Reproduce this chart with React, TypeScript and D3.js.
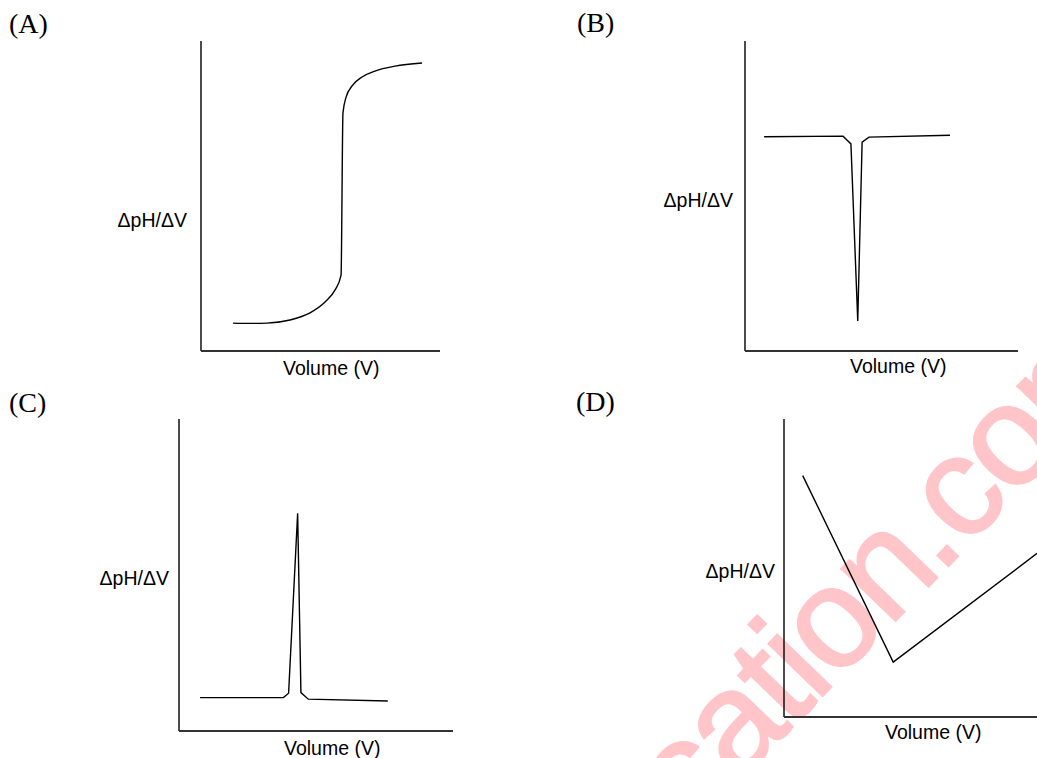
import React from "react";
import * as d3 from "d3";

// Panel letters and axis titles
const panelLabels = ["(A)", "(B)", "(C)", "(D)"];
const yTitle = "ΔpH/ΔV";
const xTitle = "Volume (V)";
const watermarkText = "education.com";

// Series values (volume %, ΔpH/ΔV %) for each panel
const seriesA: [number, number][] = [
  [13.4, 9.0], [20.5, 8.9], [27.6, 9.0], [37.2, 10.0], [45.6, 12.3], [51.9, 15.8],
  [56.1, 19.7], [58.6, 24.5], [59.4, 76.8], [60.7, 81.9], [63.2, 85.5], [67.4, 88.4],
  [72.8, 90.3], [81.2, 91.9], [92.5, 92.9],
];
const seriesB: [number, number][] = [
  [7.0, 69.1], [35.9, 69.3], [38.8, 66.8], [41.3, 9.7], [42.9, 67.4], [45.4, 69.0], [75.1, 69.6],
];
const seriesC: [number, number][] = [
  [7.7, 10.7], [38.1, 10.7], [40.0, 12.1], [43.3, 69.8], [44.5, 12.3], [47.2, 10.2], [76.2, 9.6],
];
const seriesD: [number, number][] = [
  [7.2, 81.0], [42.0, 18.4], [97.3, 54.9],
];

type Panel = {
  label: string;
  data: [number, number][];
  smooth: boolean;
  xr: [number, number];
  yr: [number, number];
  labelPos: [number, number];
  yTitlePos: [number, number];
  xTitlePos: [number, number];
};

const panels: Panel[] = [
  { label: panelLabels[0], data: seriesA, smooth: true, xr: [201, 440], yr: [351, 41], labelPos: [9, 33], yTitlePos: [187, 227], xTitlePos: [283, 375] },
  { label: panelLabels[1], data: seriesB, smooth: false, xr: [745, 1018], yr: [351, 41], labelPos: [577, 32], yTitlePos: [733, 207], xTitlePos: [850, 373] },
  { label: panelLabels[2], data: seriesC, smooth: false, xr: [179, 453], yr: [731, 419], labelPos: [9, 412], yTitlePos: [169, 585], xTitlePos: [284, 755] },
  { label: panelLabels[3], data: seriesD, smooth: false, xr: [784, 1044], yr: [717, 419], labelPos: [576, 411], yTitlePos: [775, 578], xTitlePos: [885, 739] },
];

function PanelView({ p }: { p: Panel }) {
  const x = d3.scaleLinear().domain([0, 100]).range(p.xr);
  const y = d3.scaleLinear().domain([0, 100]).range(p.yr);
  const line = d3
    .line<[number, number]>()
    .x((d) => x(d[0]))
    .y((d) => y(d[1]))
    .curve(p.smooth ? d3.curveMonotoneX : d3.curveLinear);
  return (
    <g>
      <text x={p.labelPos[0]} y={p.labelPos[1]} fontFamily="Liberation Serif, Times New Roman, serif" fontSize={28} fill="#000">
        {p.label}
      </text>
      <line x1={x(0)} x2={x(0)} y1={y(100)} y2={y(0)} stroke="#111" strokeWidth={1.5} />
      <line x1={x(0)} x2={x(100)} y1={y(0)} y2={y(0)} stroke="#333" strokeWidth={1.8} />
      <path d={line(p.data) || ""} fill="none" stroke="#000" strokeWidth={1.4} strokeLinejoin="miter" />
      <text x={p.yTitlePos[0]} y={p.yTitlePos[1]} textAnchor="end" fontFamily="Liberation Sans, Arial, sans-serif" fontSize={19.5} fill="#000">
        {yTitle}
      </text>
      <text x={p.xTitlePos[0]} y={p.xTitlePos[1]} fontFamily="Liberation Sans, Arial, sans-serif" fontSize={19.5} fill="#000">
        {xTitle}
      </text>
    </g>
  );
}

export default function App() {
  const F = 142;
  const ls = -3;
  const dotX = -0.139 * F;
  const baseY = 0.05 * F;
  const idx = watermarkText.indexOf(".");
  const wmStyle = {
    fontFamily: "Liberation Sans, Arial, sans-serif",
    fontSize: F,
    fill: "#ffc5c8",
    stroke: "#ffc5c8",
    strokeWidth: 2.2,
    letterSpacing: `${ls}px`,
  } as React.CSSProperties;
  return (
    <svg
      width={1037}
      height={758}
      style={{ position: "absolute", left: 0, top: 0, background: "#fff", overflow: "hidden" }}
    >
      <rect width={1037} height={758} fill="#fff" />
      <g transform="translate(948,556) rotate(-46)">
        <text x={dotX - ls} y={baseY} textAnchor="end" style={wmStyle}>
          {watermarkText.slice(0, idx)}
        </text>
        <text x={dotX} y={baseY} style={wmStyle}>
          {watermarkText.slice(idx)}
        </text>
      </g>
      {panels.map((p) => (
        <PanelView key={p.label} p={p} />
      ))}
    </svg>
  );
}
